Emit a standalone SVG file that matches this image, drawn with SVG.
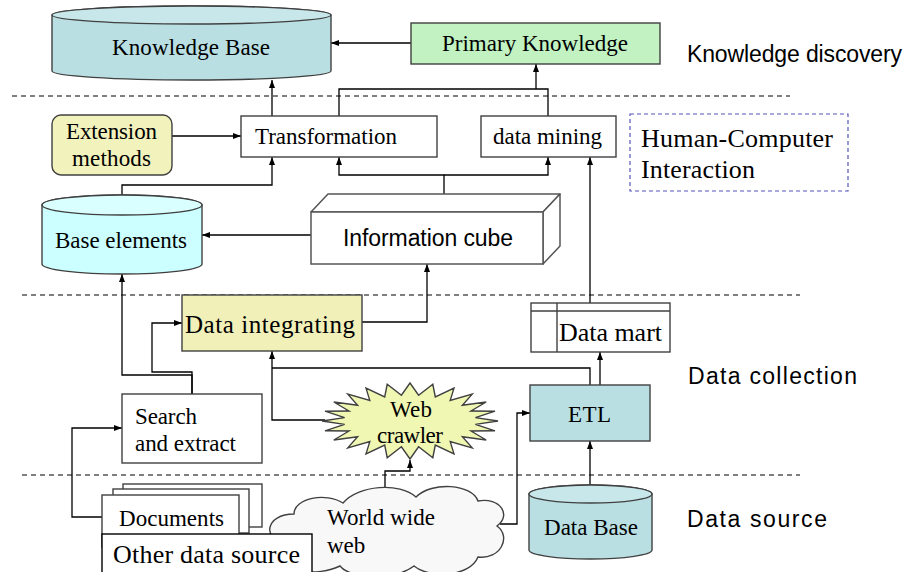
<svg xmlns="http://www.w3.org/2000/svg" width="906" height="572" viewBox="0 0 906 572">
<style>
.serif{font-family:"Liberation Serif","Times New Roman",serif;fill:#000;}
.sans{font-family:"Liberation Sans",Arial,sans-serif;fill:#000;}
.node{stroke:#404040;stroke-width:1.4;}
.conn{fill:none;stroke:#000;stroke-width:1.3;}
.sep{stroke:#000;stroke-width:1;stroke-dasharray:5 4;}
</style>
<defs>
<marker id="ah" viewBox="0 0 8 6" refX="8" refY="3" markerWidth="8" markerHeight="6" markerUnits="userSpaceOnUse" orient="auto">
<path d="M0,0 L8,3 L0,6 Z" fill="#000"/>
</marker>
</defs>
<rect width="906" height="572" fill="#fff"/>

<g id="separators">
<line class="sep" x1="12" y1="96" x2="790" y2="96"/>
<line class="sep" x1="22" y1="295" x2="800" y2="295"/>
<line class="sep" x1="22" y1="475" x2="800" y2="475"/>
</g>

<g id="connectors">
<path class="conn" d="M411,43 H331" marker-end="url(#ah)"/>
<path class="conn" d="M272,116 V80" marker-end="url(#ah)"/>
<path class="conn" d="M339,116 V89 H548 V116"/>
<path class="conn" d="M536,89 V64" marker-end="url(#ah)"/>
<path class="conn" d="M172,136 H241" marker-end="url(#ah)"/>
<path class="conn" d="M122,195 V185 H272 V157" marker-end="url(#ah)"/>
<path class="conn" d="M444,194 V175 H339 V157" marker-end="url(#ah)"/>
<path class="conn" d="M444,175 H548 V157" marker-end="url(#ah)"/>
<path class="conn" d="M590,303 V157" marker-end="url(#ah)"/>
<path class="conn" d="M311,235 H202" marker-end="url(#ah)"/>
<path class="conn" d="M362,322 H427 V264" marker-end="url(#ah)"/>
<path class="conn" d="M192,394 V372 H152 V323 H182" marker-end="url(#ah)"/>
<path class="conn" d="M192,394 V375 H122 V274" marker-end="url(#ah)"/>
<path class="conn" d="M102,517 H72 V428 H122" marker-end="url(#ah)"/>
<path class="conn" d="M325,420 H272 V351" marker-end="url(#ah)"/>
<path class="conn" d="M590,385 V368 H272"/>
<path class="conn" d="M600,385 V352" marker-end="url(#ah)"/>
<path class="conn" d="M385,488 V471 H410 V460" marker-end="url(#ah)"/>
<path class="conn" d="M500,524 H517 V413 H530" marker-end="url(#ah)"/>
<path class="conn" d="M590,485 V441" marker-end="url(#ah)"/>
</g>

<g id="knowledge-base">
<path class="node" d="M52,15 A139.5,9 0 0 1 331,15 V71 A139.5,9 0 0 1 52,71 Z" fill="#b9dfe3"/>
<ellipse class="node" cx="191.5" cy="15" rx="139.5" ry="9" fill="#c8e7eb"/>
<text class="serif" x="112" y="55" font-size="23" textLength="158">Knowledge Base</text>
</g>

<g id="primary-knowledge">
<rect class="node" x="411" y="23" width="249" height="41" fill="#c2f2c2"/>
<text class="serif" x="442" y="51" font-size="23" textLength="186">Primary Knowledge</text>
</g>

<g id="label-knowledge-discovery">
<text class="sans" x="687" y="62" font-size="23" textLength="215">Knowledge discovery</text>
</g>

<g id="extension-methods">
<rect class="node" x="52" y="115" width="120" height="60" rx="9" fill="#f2f2bc"/>
<text class="serif" x="66" y="139" font-size="23" textLength="91">Extension</text>
<text class="serif" x="72" y="166" font-size="23" textLength="79">methods</text>
</g>

<g id="transformation">
<rect class="node" x="241" y="116" width="196" height="41" fill="#fff"/>
<text class="serif" x="255" y="144" font-size="23" textLength="142">Transformation</text>
</g>

<g id="data-mining">
<rect class="node" x="481" y="116" width="135" height="41" fill="#fff"/>
<text class="serif" x="493" y="144" font-size="23" textLength="109">data mining</text>
</g>

<g id="human-computer-interaction">
<rect x="630" y="114" width="218" height="77" fill="none" stroke="#5555bb" stroke-width="1.2" stroke-dasharray="4 3"/>
<text class="serif" x="641" y="147" font-size="26" textLength="192">Human-Computer</text>
<text class="serif" x="641" y="178" font-size="26" textLength="114">Interaction</text>
</g>

<g id="base-elements">
<path class="node" d="M42,205 A80,10 0 0 1 202,205 V264 A80,10 0 0 1 42,264 Z" fill="#ccffff"/>
<ellipse class="node" cx="122" cy="205" rx="80" ry="10" fill="#d9ffff"/>
<text class="serif" x="55" y="248" font-size="23" textLength="132">Base elements</text>
</g>

<g id="information-cube">
<polygon points="311,212 328,194 560,194 543,212" fill="#fff" stroke="#555" stroke-width="1.5" stroke-linejoin="round"/>
<polygon points="543,212 560,194 560,246 543,264" fill="#fff" stroke="#555" stroke-width="1.5" stroke-linejoin="round"/>
<rect x="311" y="212" width="232" height="52" fill="#fff" stroke="#555" stroke-width="1.5"/>
<text class="sans" x="343" y="246" font-size="23" textLength="170">Information cube</text>
</g>

<g id="data-integrating">
<rect class="node" x="182" y="295" width="180" height="56" fill="#f0f0b8"/>
<text class="serif" x="185" y="333" font-size="25" textLength="170">Data integrating</text>
</g>

<g id="data-mart">
<rect class="node" x="531" y="303" width="139" height="49" fill="#fff"/>
<line class="node" x1="531" y1="311" x2="670" y2="311"/>
<line class="node" x1="557" y1="303" x2="557" y2="352"/>
<text class="serif" x="559" y="341" font-size="26" textLength="103">Data mart</text>
</g>

<g id="label-data-collection">
<text class="sans" x="688" y="384" font-size="23" textLength="169">Data collection</text>
</g>

<g id="search-and-extract">
<rect class="node" x="122" y="394" width="140" height="69" fill="#fff"/>
<text class="serif" x="135" y="424" font-size="23" textLength="62">Search</text>
<text class="serif" x="135" y="451" font-size="23" textLength="101">and extract</text>
</g>

<g id="web-crawler">
<polygon class="node" fill="#f0f7b2" points="498,421 475.4,424.4 495,430.8 471,431 486.2,440 462.4,436.8 472.2,447.9 450.2,441.6 454,453.9 435.3,445 432.8,457.7 418.6,446.8 410,459 401.4,446.8 387.2,457.7 384.7,445 366,453.9 369.8,441.6 347.8,447.9 357.6,436.8 333.8,440 349,431 325,430.8 344.6,424.4 322,421 344.6,417.6 325,411.2 349,411 333.8,402 357.6,405.2 347.8,394.1 369.8,400.4 366,388.1 384.7,397 387.2,384.3 401.4,395.2 410,383 418.6,395.2 432.8,384.3 435.3,397 454,388.1 450.2,400.4 472.2,394.1 462.4,405.2 486.2,402 471,411 495,411.2 475.4,417.6"/>
<text class="serif" x="390" y="417" font-size="23" textLength="42">Web</text>
<text class="serif" x="377" y="443" font-size="23" textLength="66">crawler</text>
</g>

<g id="etl">
<rect class="node" x="530" y="385" width="120" height="56" fill="#b9dfe3"/>
<text class="serif" x="568" y="422" font-size="23" textLength="43">ETL</text>
</g>

<g id="world-wide-web">
<path class="node" fill="#f8f8f8" d="M285,542 C262,540 265,514 294,514 C294,498 326,492 343,503 C358,485 400,482 416,497 C432,481 472,484 478,501 C500,497 512,515 497,526 C512,537 500,560 478,557 C470,577 430,579 414,566 C394,581 350,579 340,566 C318,577 278,572 288,556 C268,553 268,540 285,542 Z"/>
<text class="serif" x="327" y="525" font-size="23" textLength="108">World wide</text>
<text class="serif" x="327" y="553" font-size="23">web</text>
</g>

<g id="documents">
<rect class="node" x="123" y="484" width="139" height="43" fill="#fff"/>
<rect class="node" x="113" y="489" width="136" height="44" fill="#fff"/>
<rect class="node" x="102" y="495" width="137" height="52" fill="#fff"/>
<text class="serif" x="119" y="526" font-size="23" textLength="105">Documents</text>
</g>

<g id="other-data-source">
<rect x="102" y="534" width="210" height="45" fill="#fff" stroke="#000" stroke-width="1.4"/>
<text class="serif" x="113" y="563" font-size="26" textLength="187">Other data source</text>
</g>

<g id="data-base">
<path class="node" d="M529,494 A61.5,9 0 0 1 652,494 V550 A61.5,9 0 0 1 529,550 Z" fill="#b9dfe3"/>
<ellipse class="node" cx="590.5" cy="494" rx="61.5" ry="9" fill="#c8e7eb"/>
<text class="serif" x="544" y="535" font-size="23" textLength="94">Data Base</text>
</g>

<g id="label-data-source">
<text class="sans" x="687" y="527" font-size="23" textLength="140">Data source</text>
</g>
</svg>
